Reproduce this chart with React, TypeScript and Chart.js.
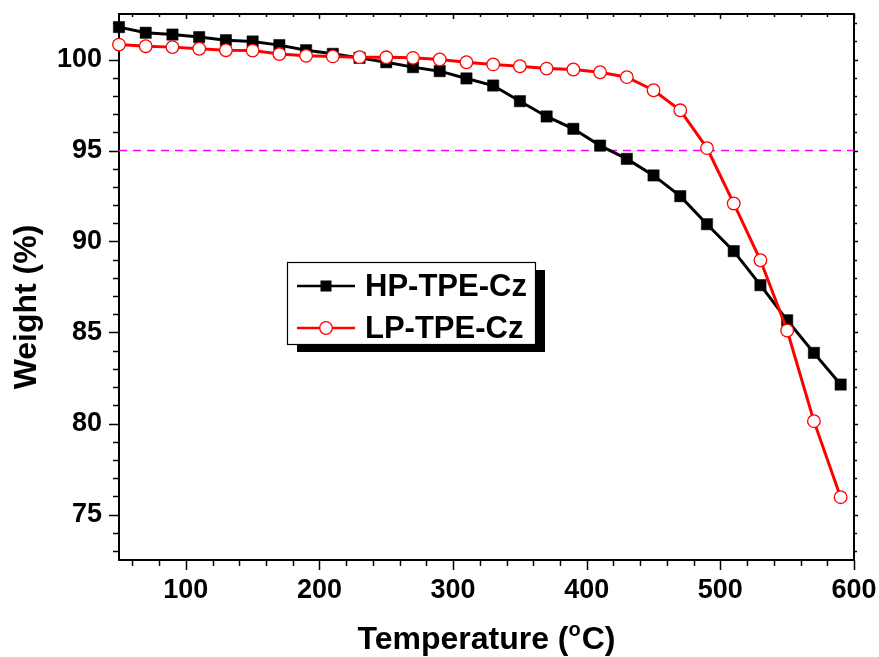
import React, { useEffect, useRef } from "react";
import { Chart, registerables } from "chart.js";

Chart.register(...registerables);

// ---------- data ----------
const temperatures = [50, 70, 90, 110, 130, 150, 170, 190, 210, 230, 250, 270, 290, 310, 330, 350, 370, 390, 410, 430, 450, 470, 490, 510, 530, 550, 570, 590];
const hpWeight = [101.78, 101.47, 101.37, 101.23, 101.06, 100.99, 100.79, 100.51, 100.31, 100.09, 99.85, 99.58, 99.36, 98.96, 98.57, 97.71, 96.87, 96.19, 95.27, 94.54, 93.63, 92.49, 90.95, 89.47, 87.6, 85.67, 83.88, 82.14];
const lpWeight = [100.82, 100.73, 100.68, 100.59, 100.51, 100.49, 100.3, 100.2, 100.17, 100.13, 100.12, 100.09, 100.0, 99.85, 99.73, 99.63, 99.5, 99.45, 99.3, 99.03, 98.31, 97.21, 95.13, 92.09, 88.97, 85.11, 80.13, 75.95];
const seriesNames = ["HP-TPE-Cz", "LP-TPE-Cz"];
const xTickValues = [100, 200, 300, 400, 500, 600];
const yTickValues = [75, 80, 85, 90, 95, 100];
const thresholdLevel = 95;
const xRange = [50, 600];
const yRange = [72.5, 102.5];
const xMajorStep = 100;
const xMinorStep = 20;
const yMajorStep = 5;
const yMinorStep = 1;

const FONT = '"Liberation Sans", Arial, Helvetica, sans-serif';

const framePlugin = {
  id: "frameTicks",
  beforeDatasetsDraw(chart: any) {
    const { ctx, chartArea: a, scales } = chart;
    const x = scales.x;
    const y = scales.y;
    ctx.save();
    ctx.strokeStyle = "#000";
    ctx.lineWidth = 1.5;
    ctx.beginPath();
    for (let v = xRange[0] + 10; v <= xRange[1] + 0.001; v += xMinorStep) {
      const px = Math.round(x.getPixelForValue(v)) + 0.5;
      const major = Math.abs(v % xMajorStep) < 0.001;
      const len = major ? 10 : 6;
      ctx.moveTo(px, a.bottom);
      ctx.lineTo(px, a.bottom + len);
      ctx.moveTo(px, a.top);
      ctx.lineTo(px, a.top + (major ? 5 : 3));
    }
    for (let v = Math.ceil(yRange[0]); v <= yRange[1]; v += yMinorStep) {
      const py = Math.round(y.getPixelForValue(v)) + 0.5;
      const major = v % yMajorStep === 0;
      const len = major ? 10 : 6;
      ctx.moveTo(a.left, py);
      ctx.lineTo(a.left - len, py);
      ctx.moveTo(a.right, py);
      ctx.lineTo(a.right + (major ? 4 : 3), py);
    }
    ctx.stroke();
    ctx.lineWidth = 2;
    ctx.strokeRect(a.left, a.top, a.right - a.left, a.bottom - a.top);
    ctx.restore();
  },
  afterDraw(chart: any) {
    const { ctx, chartArea: a } = chart;
    ctx.save();
    ctx.fillStyle = "#000";
    const big = `bold 32px ${FONT}`;
    const small = `bold 20px ${FONT}`;
    ctx.font = big;
    const p1 = "Temperature (";
    const p3 = "C)";
    const w1 = ctx.measureText(p1).width;
    const w3 = ctx.measureText(p3).width;
    ctx.font = small;
    const w2 = ctx.measureText("o").width + 1;
    const total = w1 + w2 + w3;
    const cx = (a.left + a.right) / 2;
    let sx = cx - total / 2;
    const by = 649;
    ctx.textBaseline = "alphabetic";
    ctx.textAlign = "left";
    ctx.font = big;
    ctx.fillText(p1, sx, by);
    sx += w1;
    ctx.font = small;
    ctx.fillText("o", sx, by - 13);
    sx += w2;
    ctx.font = big;
    ctx.fillText(p3, sx, by);

    ctx.save();
    ctx.translate(36, 307);
    ctx.rotate(-Math.PI / 2);
    ctx.textAlign = "center";
    ctx.font = big;
    ctx.fillText("Weight (%)", 0, 0);
    ctx.restore();

    // legend box
    const bx = 287, byy = 262, bw = 248, bh = 82;
    ctx.fillStyle = "#000";
    ctx.fillRect(bx + 10, byy + 8, bw, bh);
    ctx.fillStyle = "#fff";
    ctx.fillRect(bx, byy, bw, bh);
    ctx.strokeStyle = "#000";
    ctx.lineWidth = 1.2;
    ctx.strokeRect(bx + 0.5, byy + 0.5, bw, bh);

    const rows = [286, 328];
    const lx1 = 297, lx2 = 355, mx = 326;
    ctx.strokeStyle = "#000";
    ctx.lineWidth = 2.5;
    ctx.beginPath();
    ctx.moveTo(lx1, rows[0]);
    ctx.lineTo(lx2, rows[0]);
    ctx.stroke();
    ctx.fillStyle = "#000";
    ctx.fillRect(mx - 5.5, rows[0] - 5.5, 11, 11);
    ctx.strokeStyle = "#ff0000";
    ctx.beginPath();
    ctx.moveTo(lx1, rows[1]);
    ctx.lineTo(lx2, rows[1]);
    ctx.stroke();
    ctx.fillStyle = "#fff";
    ctx.lineWidth = 1.3;
    ctx.beginPath();
    ctx.arc(mx, rows[1], 6.3, 0, Math.PI * 2);
    ctx.fill();
    ctx.stroke();

    ctx.fillStyle = "#000";
    ctx.font = `bold 31px ${FONT}`;
    ctx.textAlign = "left";
    ctx.textBaseline = "middle";
    ctx.fillText(seriesNames[0], 365, rows[0] + 1);
    ctx.fillText(seriesNames[1], 365, rows[1] + 1);
    ctx.restore();
  },
};

export default function App() {
  const canvasRef = useRef<HTMLCanvasElement | null>(null);

  useEffect(() => {
    const canvas = canvasRef.current;
    if (!canvas) return;
    const hpData = temperatures.map((t, i) => ({ x: t, y: hpWeight[i] }));
    const lpData = temperatures.map((t, i) => ({ x: t, y: lpWeight[i] }));
    const chart = new Chart(canvas, {
      type: "line",
      data: {
        datasets: [
          {
            label: seriesNames[1],
            data: lpData,
            borderColor: "#ff0000",
            borderWidth: 3,
            pointStyle: "circle",
            pointRadius: 6.3,
            pointBorderWidth: 1.3,
            pointBackgroundColor: "#ffffff",
            pointBorderColor: "#ff0000",
            tension: 0,
            order: 0,
            clip: false,
          },
          {
            label: seriesNames[0],
            data: hpData,
            borderColor: "#000000",
            borderWidth: 3,
            pointStyle: "rect",
            pointRadius: 8,
            pointBorderWidth: 0.5,
            pointBackgroundColor: "#000000",
            pointBorderColor: "#000000",
            tension: 0,
            order: 1,
            clip: false,
          },
          {
            label: "95%",
            data: [
              { x: xRange[0], y: thresholdLevel },
              { x: xRange[1], y: thresholdLevel },
            ],
            borderColor: "#ff00ff",
            borderWidth: 1.3,
            borderDash: [8, 6],
            pointRadius: 0,
            order: 2,
          },
        ],
      },
      options: {
        responsive: false,
        animation: false,
        devicePixelRatio: 1,
        layout: { padding: { top: 14, right: 25, left: 0, bottom: 0 } },
        plugins: {
          legend: { display: false },
          tooltip: { enabled: false },
        },
        scales: {
          x: {
            type: "linear",
            min: xRange[0],
            max: xRange[1],
            grid: { display: false, drawTicks: false },
            border: { display: false },
            ticks: {
              color: "#000",
              padding: 14,
              maxRotation: 0,
              font: { family: FONT, size: 27, weight: "bold" },
            },
            afterBuildTicks: (s: any) => {
              s.ticks = xTickValues.map((v) => ({ value: v }));
            },
            afterFit: (s: any) => {
              s.height = 97;
              s.paddingLeft = 0;
              s.paddingRight = 0;
            },
          },
          y: {
            type: "linear",
            min: yRange[0],
            max: yRange[1],
            grid: { display: false, drawTicks: false },
            border: { display: false },
            ticks: {
              color: "#000",
              padding: 17,
              font: { family: FONT, size: 27, weight: "bold" },
            },
            afterBuildTicks: (s: any) => {
              s.ticks = yTickValues.map((v) => ({ value: v }));
            },
            afterFit: (s: any) => {
              s.width = 119;
              s.paddingTop = 0;
              s.paddingBottom = 0;
            },
          },
        },
      },
      plugins: [framePlugin],
    } as any);
    return () => chart.destroy();
  }, []);

  return (
    <div style={{ position: "absolute", left: 0, top: 0, width: 879, height: 657, background: "#fff" }}>
      <canvas ref={canvasRef} width={879} height={657} style={{ display: "block" }} />
    </div>
  );
}
